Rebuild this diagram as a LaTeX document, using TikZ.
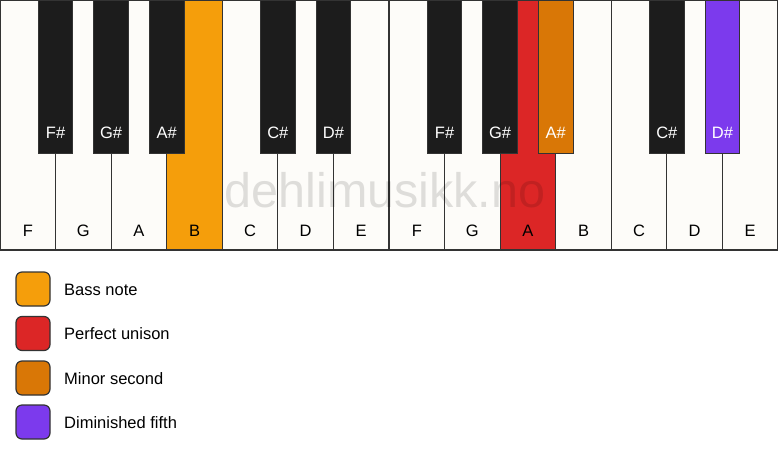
\documentclass[tikz,border=0pt]{standalone}
\usepackage{fontspec}
\setmainfont{Liberation Sans}
\definecolor{keywhite}{HTML}{FDFCF9}
\definecolor{keyblack}{HTML}{1C1C1C}
\definecolor{keyline}{HTML}{333333}
\definecolor{bassc}{HTML}{F59E0B}
\definecolor{unisonc}{HTML}{DC2626}
\definecolor{minorc}{HTML}{D97706}
\definecolor{dimc}{HTML}{7C3AED}
\begin{document}
\begin{tikzpicture}[x=1pt,y=-1pt,
  whitekey/.style={draw=keyline,line width=1.2pt,fill=keywhite,minimum width=55.571pt,minimum height=250pt,inner sep=0pt,outer sep=0pt,anchor=north west},
  blackkey/.style={draw=keyline,line width=1pt,fill=keyblack,minimum width=34.7pt,minimum height=153pt,inner sep=0pt,outer sep=0pt,anchor=north},
  wlabel/.style={font=\fontsize{16.5}{19}\selectfont,text=black},
  blabel/.style={font=\fontsize{16.5}{19}\selectfont,text=white},
  legbox/.style={draw=keyline,line width=1.2pt,rounded corners=6pt,minimum size=34pt,inner sep=0pt},
  legtext/.style={font=\fontsize{16.5}{19}\selectfont,anchor=west,inner sep=0pt}]
\useasboundingbox (0,0) rectangle (778,461);
\fill[white] (0,0) rectangle (778,461);
% white keys
\foreach \i/\n/\c in {0/F/keywhite,1/G/keywhite,2/A/keywhite,3/B/bassc,4/C/keywhite,5/D/keywhite,6/E/keywhite,7/F/keywhite,8/G/keywhite,9/A/unisonc,10/B/keywhite,11/C/keywhite,12/D/keywhite,13/E/keywhite}{
  \node[whitekey,fill=\c] (w\i) at (\i*55.571,0) {};
  \node[wlabel] (wl\i) at (\i*55.571+27.79,231) {\n};
}
% watermark
\node[font=\fontsize{48.5}{50}\selectfont,text=black,text opacity=0.12,anchor=base] (wm) at (385,207) {dehlimusikk.no};
% black keys
\foreach \b/\n/\c in {1/F\#/keyblack,2/G\#/keyblack,3/A\#/keyblack,5/C\#/keyblack,6/D\#/keyblack,8/F\#/keyblack,9/G\#/keyblack,10/A\#/minorc,12/C\#/keyblack,13/D\#/dimc}{
  \node[blackkey,fill=\c] (b\b) at (\b*55.571,0) {};
  \node[blabel] (bl\b) at (\b*55.571,133) {\n};
}
% outer frame
\draw[keyline,line width=1.2pt] (w0.north west) rectangle (w13.south east);
% legend
\node[legbox,fill=bassc] (l1) at (33,289) {};
\node[legtext] (t1) at (64,289.5) {Bass note};
\node[legbox,fill=unisonc] (l2) at (33,333.5) {};
\node[legtext] (t2) at (64,334) {Perfect unison};
\node[legbox,fill=minorc] (l3) at (33,378) {};
\node[legtext] (t3) at (64,378.5) {Minor second};
\node[legbox,fill=dimc] (l4) at (33,422) {};
\node[legtext] (t4) at (64,422.5) {Diminished fifth};
\end{tikzpicture}
\end{document}
